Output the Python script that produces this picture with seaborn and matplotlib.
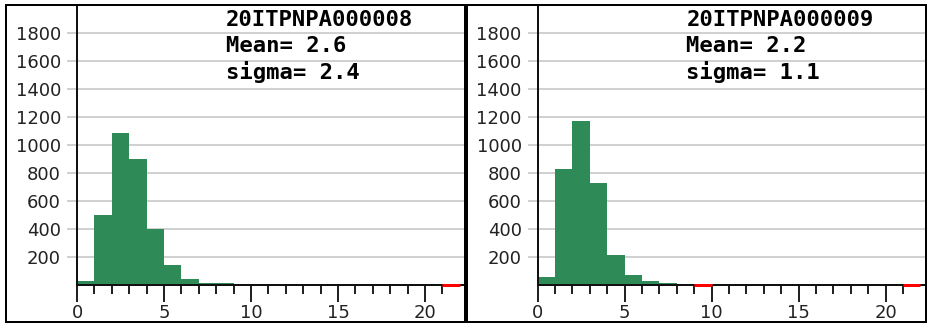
import numpy as np
import pandas as pd
import matplotlib
matplotlib.use("Agg")
import matplotlib.pyplot as plt
from matplotlib.patches import Rectangle
from matplotlib.ticker import FixedLocator
from matplotlib.transforms import blended_transform_factory
import seaborn as sns

# Histogram contents per unit-wide bin, starting at 0
left_counts = [30, 500, 1085, 900, 400, 143, 45, 15, 12]
right_counts = [59, 830, 1170, 728, 214, 71, 28, 12]

# Bins flagged in red along the baseline (left edge of the unit bin)
left_flags = [21]
right_flags = [9, 21]

# Panel captions
left_info = ["20ITPNPA000008", "Mean= 2.6", "sigma= 2.4"]
right_info = ["20ITPNPA000009", "Mean= 2.2", "sigma= 1.1"]

y_ticks = [200, 400, 600, 800, 1000, 1200, 1400, 1600, 1800]
x_major = [0, 5, 10, 15, 20]
x_minor = [v for v in range(1, 22) if v not in x_major]

sns.set_theme(style="white")
plt.rcParams["font.family"] = ["DejaVu Sans"]

W, H = 930, 327
fig = plt.figure(figsize=(W / 100, H / 100), dpi=100)

BAR = "#2e8b57"
GRID = "#c6c6c6"
PT = 72 / 100  # points per pixel


def panel(left_px, counts, flags, info):
    ax = fig.add_axes([left_px / W, 42 / H, 388 / W, 280.4 / H])
    df = pd.DataFrame({"bin": np.arange(len(counts)) + 0.5,
                       "count": np.asarray(counts, dtype=float)})
    sns.histplot(data=df, x="bin", weights="count", binwidth=1,
                 binrange=(0, len(counts)), color=BAR, alpha=1,
                 linewidth=0, edgecolor=BAR, ax=ax, zorder=2)
    ax.set_xlim(0, 22.3)
    ax.set_ylim(0, 2000)
    ax.set_xlabel("")
    ax.set_ylabel("")

    # grid and y ticks share the same light grey
    ax.set_axisbelow(True)
    ax.yaxis.set_major_locator(FixedLocator(y_ticks))
    ax.grid(axis="y", color=GRID, lw=1.6 * PT)
    ax.grid(axis="x", visible=False)
    ax.tick_params(axis="y", direction="out", length=10 * PT, width=1.6 * PT,
                   color=GRID, pad=6 * PT, labelsize=13, labelcolor="#222222",
                   left=True)

    ax.xaxis.set_major_locator(FixedLocator(x_major))
    ax.xaxis.set_minor_locator(FixedLocator(x_minor))
    ax.tick_params(axis="x", which="major", direction="out", length=17 * PT,
                   width=2 * PT, color="#222222", pad=1.5 * PT, labelsize=13,
                   labelcolor="#222222", bottom=True)
    ax.tick_params(axis="x", which="minor", direction="out", length=9 * PT,
                   width=2 * PT, color="#222222", bottom=True)

    for side in ("top", "right"):
        ax.spines[side].set_visible(False)
    for side in ("left", "bottom"):
        ax.spines[side].set_color("#111111")
        ax.spines[side].set_linewidth(2 * PT)
        ax.spines[side].set_zorder(3)

    for f in flags:
        ax.hlines(0, f, f + 1, colors="#ff0000", lw=3 * PT, zorder=4,
                  clip_on=False)

    # caption lines, baselines given in pixels below the axes top
    trans = blended_transform_factory(ax.transData, ax.transAxes)
    baselines = [21, 47.5, 74]
    for txt, b in zip(info, baselines):
        ax.text(8.55, 1 - b / 280.4, txt, transform=trans,
                family="DejaVu Sans Mono", weight="bold", fontsize=16,
                color="black", va="baseline", ha="left", zorder=5)
    return ax


panel(77, left_counts, left_flags, left_info)
panel(537.7, right_counts, right_flags, right_info)

# black frames around each panel
for x0, x1 in [(6, 465), (467, 926)]:
    fig.add_artist(Rectangle((x0 / W, (H - 322) / H), (x1 - x0) / W,
                             317 / H, transform=fig.transFigure,
                             fill=False, edgecolor="black", lw=2 * PT))

fig.savefig("out.png", dpi=100, facecolor="white")
